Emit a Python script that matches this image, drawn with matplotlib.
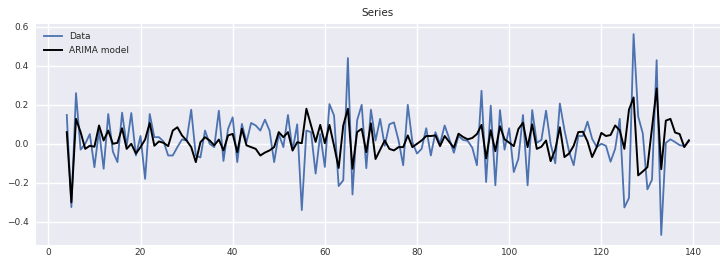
import matplotlib
matplotlib.use("Agg")
import matplotlib.pyplot as plt
import numpy as np

t = list(range(4, 140))

data = [0.148, -0.325, 0.26, -0.03, 0.0, 0.05, -0.12, 0.07, -0.128, 0.153,
        -0.04, -0.094, 0.16, -0.01, 0.158, -0.06, 0.04, -0.18, 0.153, 0.034,
        0.034, 0.012, -0.06, -0.06, -0.017, 0.022, 0.017, 0.175, -0.06, -0.07,
        0.068, 0.0, -0.017, 0.17, -0.088, 0.077, 0.136, -0.094, 0.102, 0.008,
        0.107, 0.094, 0.068, 0.124, 0.068, -0.094, 0.05, -0.017, 0.148, -0.035,
        0.10, -0.34, 0.068, 0.06, -0.153, 0.05, -0.119, 0.204, 0.145, -0.217,
        -0.187, 0.44, -0.26, 0.12, 0.2, -0.125, 0.175, 0.017, 0.128, -0.01,
        0.1, 0.11, 0.017, -0.11, 0.2, 0.008, -0.05, -0.026, 0.08, -0.06,
        0.06, 0.0, 0.094, 0.026, -0.046, 0.04, 0.02, 0.015, -0.02, -0.11,
        0.272, -0.196, 0.196, -0.213, 0.173, -0.03, 0.08, -0.145, -0.077, 0.148,
        -0.213, 0.173, 0.005, 0.02, 0.17, 0.0, -0.1, 0.207, 0.07, -0.04,
        -0.11, 0.04, 0.04, 0.114, 0.026, -0.017, 0.0, -0.01, -0.092, -0.026,
        0.128, -0.327, -0.278, 0.563, 0.14, 0.053, -0.234, -0.184, 0.429, -0.468,
        0.005, 0.023, 0.009, -0.007, -0.012, 0.013]

model = [0.06, -0.30, 0.128, 0.06, -0.026, -0.01, -0.015, 0.094, 0.017, 0.068,
         0.0, 0.005, 0.08, -0.026, 0.0, -0.05, -0.017, 0.022, 0.107, -0.01,
         0.012, 0.005, -0.012, 0.068, 0.085, 0.043, 0.017, -0.017, -0.094, 0.008,
         0.034, 0.017, -0.008, 0.022, -0.034, 0.043, 0.051, -0.043, 0.077, -0.008,
         -0.017, -0.026, -0.06, -0.045, -0.034, -0.017, 0.06, 0.034, 0.06, -0.034,
         0.008, 0.003, 0.18, 0.094, 0.01, 0.097, 0.003, 0.097, -0.01, -0.124,
         0.094, 0.18, -0.128, 0.06, 0.077, -0.043, 0.105, -0.078, -0.03, 0.017,
         -0.026, -0.034, -0.017, -0.017, 0.043, -0.017, 0.0, 0.017, 0.04, 0.04,
         0.043, -0.012, 0.04, 0.01, -0.02, 0.052, 0.035, 0.023, 0.03, 0.05,
         0.097, -0.075, 0.07, -0.038, 0.09, 0.023, 0.006, -0.012, 0.076, 0.108,
         -0.017, 0.1, -0.026, -0.015, 0.017, -0.089, -0.03, 0.085, -0.068, -0.05,
         -0.01, 0.06, 0.062, 0.012, -0.068, -0.017, 0.056, 0.04, 0.045, 0.094,
         0.069, -0.026, 0.175, 0.238, -0.162, -0.142, -0.12, 0.08, 0.284, -0.13,
         0.119, 0.128, 0.058, 0.05, -0.017, 0.018]

x_ticks = [0, 20, 40, 60, 80, 100, 120, 140]
y_ticks = [-0.4, -0.2, 0.0, 0.2, 0.4, 0.6]

fig = plt.figure(figsize=(7.28, 2.59), dpi=100)
ax = fig.add_axes([0.049, 0.054, 0.940, 0.853])
ax.set_facecolor("#EAEAF2")
ax.grid(True, color="white", linewidth=1.0)
ax.set_axisbelow(True)
for s in ax.spines.values():
    s.set_visible(False)

ax.plot(t, data, color="#4C72B0", linewidth=1.3, label="Data")
ax.plot(t, model, color="black", linewidth=1.4, label="ARIMA model")

ax.set_xticks(x_ticks)
ax.set_yticks(y_ticks)
ax.set_yticklabels([f"{v:.1f}".replace("-", "\u2212") for v in y_ticks])
ax.tick_params(length=0, labelsize=6.5, colors="#333333")
ax.tick_params(axis="x", pad=2.5)
ax.tick_params(axis="y", pad=5)
ax.set_title("Series", fontsize=7.5, color="#262626", pad=6)
leg = ax.legend(loc="upper left", frameon=False, fontsize=6.5, handlelength=2.0)
for txt in leg.get_texts():
    txt.set_color("#262626")

fig.savefig("out.png", dpi=100)
